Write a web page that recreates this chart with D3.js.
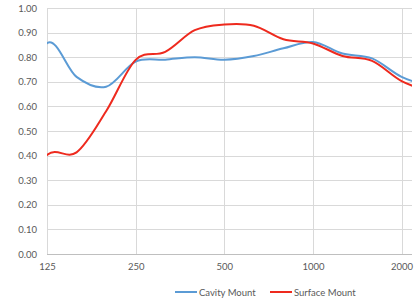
<!DOCTYPE html>
<html>
<head>
<meta charset="utf-8">
<script src="https://cdn.jsdelivr.net/npm/d3@7"></script>
<style>
  body { margin: 0; background: #fff; }
  svg text { font-family: Lato, "Open Sans", sans-serif; fill: #595959; }
</style>
</head>
<body>
<div id="chart"></div>
<script>
// 1/3-octave bands; 100 and 2500 sit just outside the visible plot area
var freqs = ['100', '125', '160', '200', '250', '315', '400', '500', '630', '800', '1000', '1250', '1600', '2000', '2500'];
var tickFreqs = ['125', '250', '500', '1000', '2000'];
var yTicks = [0, 0.1, 0.2, 0.3, 0.4, 0.5, 0.6, 0.7, 0.8, 0.9, 1.0];
var cavity = [0.55, 0.857, 0.72, 0.68, 0.782, 0.79, 0.80, 0.79, 0.805, 0.836, 0.862, 0.815, 0.795, 0.72, 0.68];
var surface = [0.20, 0.402, 0.413, 0.58, 0.789, 0.822, 0.91, 0.933, 0.928, 0.873, 0.856, 0.805, 0.785, 0.703, 0.66];
var seriesNames = ['Cavity Mount', 'Surface Mount'];
var colors = ['#5b9bd5', '#ee2a1e'];

var width = 420, height = 302;
var plotL = 47, plotR = 412, plotT = 8, plotB = 254;
var step = 29.55;

var svg = d3.select('#chart').append('svg')
  .attr('width', width)
  .attr('height', height);

var x = d3.scalePoint().domain(freqs).range([plotL - step, plotL + 13 * step]);
var y = d3.scaleLinear().domain([0, 1]).range([plotB, plotT]);

svg.append('clipPath').attr('id', 'plot')
  .append('rect')
  .attr('x', plotL).attr('y', 0)
  .attr('width', plotR - plotL).attr('height', height);

// horizontal grid
svg.append('g').selectAll('line')
  .data(yTicks.slice(1))
  .enter().append('line')
  .attr('x1', plotL).attr('x2', plotR)
  .attr('y1', function(d) { return Math.round(y(d)) + 0.5; })
  .attr('y2', function(d) { return Math.round(y(d)) + 0.5; })
  .attr('stroke', '#d9d9d9');

// vertical grid
svg.append('g').selectAll('line')
  .data(tickFreqs)
  .enter().append('line')
  .attr('x1', function(d) { return Math.round(x(d)) + 0.5; })
  .attr('x2', function(d) { return Math.round(x(d)) + 0.5; })
  .attr('y1', plotT).attr('y2', plotB)
  .attr('stroke', '#d9d9d9');

// axis line
svg.append('line')
  .attr('x1', plotL).attr('x2', plotR)
  .attr('y1', plotB + 0.5).attr('y2', plotB + 0.5)
  .attr('stroke', '#bfbfbf');

var yAxis = d3.axisLeft(y).tickValues(yTicks).tickFormat(d3.format('.2f')).tickSize(0).tickPadding(10);
var gy = svg.append('g').attr('transform', 'translate(' + plotL + ',0)').call(yAxis);
gy.select('.domain').remove();
gy.selectAll('text').attr('font-size', 9.5);

var xAxis = d3.axisBottom(x).tickValues(tickFreqs).tickSize(0).tickPadding(9);
var gx = svg.append('g').attr('transform', 'translate(0,' + plotB + ')').call(xAxis);
gx.select('.domain').remove();
gx.selectAll('text').attr('font-size', 9.5);

var line = d3.line()
  .x(function(d, i) { return x(freqs[i]); })
  .y(function(d) { return y(d); })
  .curve(d3.curveCardinal.tension(0));

[cavity, surface].forEach(function(s, i) {
  svg.append('path')
    .datum(s)
    .attr('clip-path', 'url(#plot)')
    .attr('fill', 'none')
    .attr('stroke', colors[i])
    .attr('stroke-width', 2)
    .attr('d', line);
});

// legend
var legX = [175, 270];
seriesNames.forEach(function(name, i) {
  svg.append('line')
    .attr('x1', legX[i]).attr('x2', legX[i] + 22)
    .attr('y1', 292).attr('y2', 292)
    .attr('stroke', colors[i]).attr('stroke-width', 2);
  svg.append('text')
    .attr('x', legX[i] + 24).attr('y', 295.5)
    .attr('font-size', 9.5)
    .text(name);
});
</script>
</body>
</html>
